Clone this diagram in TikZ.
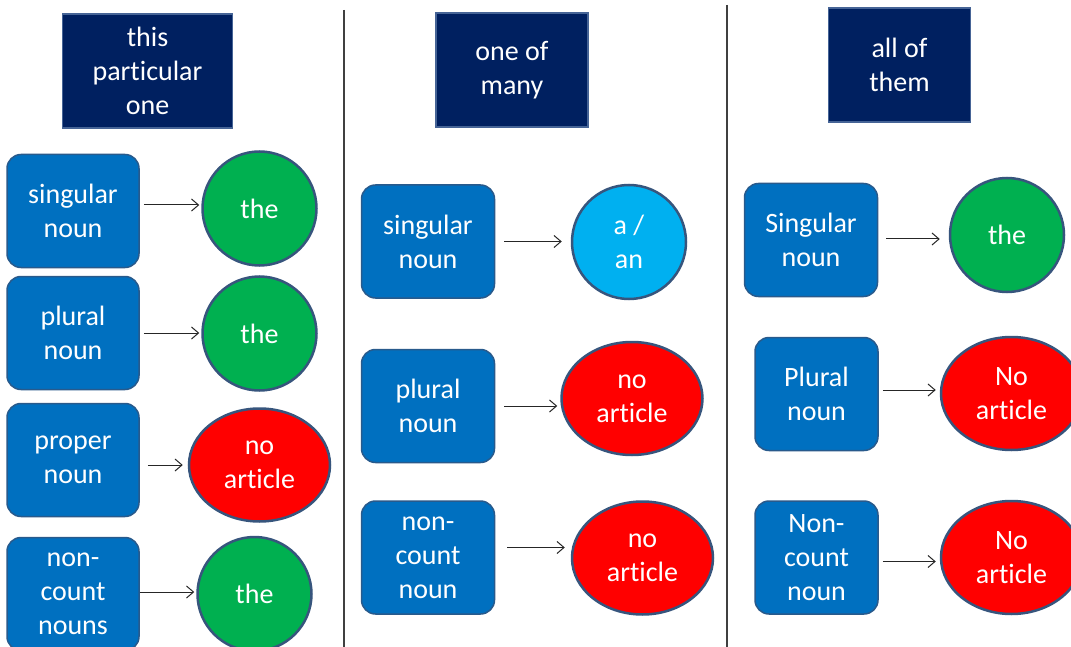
\documentclass[tikz,border=0pt]{standalone}
\usepackage{fontspec}
\setmainfont{Carlito}[Ligatures={NoCommon}]
\usetikzlibrary{shapes.geometric,arrows.meta}
\definecolor{navy}{RGB}{0,32,96}
\definecolor{navyborder}{RGB}{70,100,150}
\definecolor{boxblue}{RGB}{0,112,192}
\definecolor{boxborder}{RGB}{40,90,140}
\definecolor{artgreen}{RGB}{0,176,80}
\definecolor{artred}{RGB}{255,0,0}
\definecolor{artlight}{RGB}{0,176,240}
\definecolor{ringcol}{RGB}{55,85,125}
\tikzset{
  txt/.style={text=white, font=\fontsize{28}{34}\selectfont, align=center, inner sep=0pt},
  header/.style={txt, rectangle, fill=navy, draw=navyborder, line width=1.5pt},
  nounbox/.style={txt, rectangle, rounded corners=14pt, fill=boxblue, draw=boxborder, line width=1.5pt, minimum height=113pt},
  artcircle/.style={txt, circle, draw=ringcol, line width=2.5pt, minimum size=114pt},
  artellipse/.style={txt, ellipse, draw=ringcol, line width=2.5pt, minimum width=141pt, minimum height=113pt},
  arr/.style={-{Straight Barb[length=7pt,width=12pt]}, line width=1pt, black!85},
  divider/.style={line width=1.3pt, black!75}
}
\begin{document}
\begin{tikzpicture}[x=1pt,y=-1pt]
\useasboundingbox[fill=white] (0,0) rectangle (1071,647);
% dividers
\coordinate (d1t) at (344,10);
\coordinate (d1b) at (344,647);
\coordinate (d2t) at (727,5);
\coordinate (d2b) at (727,647);
\draw[divider] (d1t) -- (d1b);
\draw[divider] (d2t) -- (d2b);
% headers
\node[header, minimum width=170pt, minimum height=114pt] (h1) at (147.5,71) {this\\particular\\one};
\node[header, minimum width=152pt, minimum height=114pt] (h2) at (512,70) {one of\\many};
\node[header, minimum width=142pt, minimum height=114pt] (h3) at (899.5,65) {all of\\them};
% column 1
\node[nounbox, minimum width=132pt] (b11) at (73,211) {singular\\noun};
\node[nounbox, minimum width=132pt] (b12) at (73,333) {plural\\noun};
\node[nounbox, minimum width=132pt] (b13) at (73,460) {proper\\noun};
\node[nounbox, minimum width=132pt] (b14) at (73,594) {non-\\count\\nouns};
\node[artcircle, fill=artgreen] (c11) at (259.5,208.5) {the};
\node[artcircle, fill=artgreen] (c12) at (259.5,333.5) {the};
\node[artellipse, fill=artred] (c13) at (259.5,465) {no\\article};
\node[artcircle, fill=artgreen] (c14) at (254.5,594) {the};
\draw[arr] ([xshift=4pt,yshift=6pt]b11.east) -- ([xshift=-2pt,yshift=6pt]b11.east -| c11.west);
\draw[arr] ([xshift=4pt]b12.east) -- ([xshift=-2pt]b12.east -| c12.west);
\draw[arr] ([xshift=8pt,yshift=-5pt]b13.east) -- ([xshift=-5pt,yshift=-5pt]b13.east -| c13.west);
\draw[arr] ([yshift=2pt]b14.east) -- ([xshift=-2pt,yshift=2pt]b14.east -| c14.west);
% column 2
\node[nounbox, minimum width=133pt] (b21) at (428,241.5) {singular\\noun};
\node[nounbox, minimum width=133pt] (b22) at (428,406) {plural\\noun};
\node[nounbox, minimum width=133pt] (b23) at (428,557.5) {non-\\count\\noun};
\node[artcircle, fill=artlight] (c21) at (629,242) {a /\\an};
\node[artellipse, fill=artred] (c22) at (632,398.5) {no\\article};
\node[artellipse, fill=artred] (c23) at (642.5,558) {no\\article};
\draw[arr] ([xshift=9pt]b21.east) -- ([xshift=-9pt]b21.east -| c21.west);
\draw[arr] ([xshift=9pt]b22.east) -- ([xshift=-3pt]b22.east -| c22.west);
\draw[arr] ([xshift=12pt,yshift=10pt]b23.east) -- ([xshift=-6pt,yshift=10pt]b23.east -| c23.west);
% column 3
\node[nounbox, minimum width=133pt] (b31) at (811,240) {Singular\\noun};
\node[nounbox, minimum width=123pt] (b32) at (816.5,394) {Plural\\noun};
\node[nounbox, minimum width=123pt] (b33) at (816.5,557.5) {Non-\\count\\noun};
\node[artcircle, fill=artgreen] (c31) at (1007,235) {the};
\node[artellipse, fill=artred] (c32) at (1011.5,393.5) {No\\article};
\node[artellipse, fill=artred] (c33) at (1011.5,557.5) {No\\article};
\draw[arr] ([xshift=8pt,yshift=1pt]b31.east) -- ([xshift=-9pt,yshift=1pt]b31.east -| c31.west);
\draw[arr] ([xshift=4pt,yshift=4pt]b32.east) -- ([xshift=-4pt,yshift=4pt]b32.east -| c32.west);
\draw[arr] ([xshift=4pt,yshift=-4pt]b33.east) -- ([xshift=-4pt,yshift=-4pt]b33.east -| c33.west);
\end{tikzpicture}
\end{document}
